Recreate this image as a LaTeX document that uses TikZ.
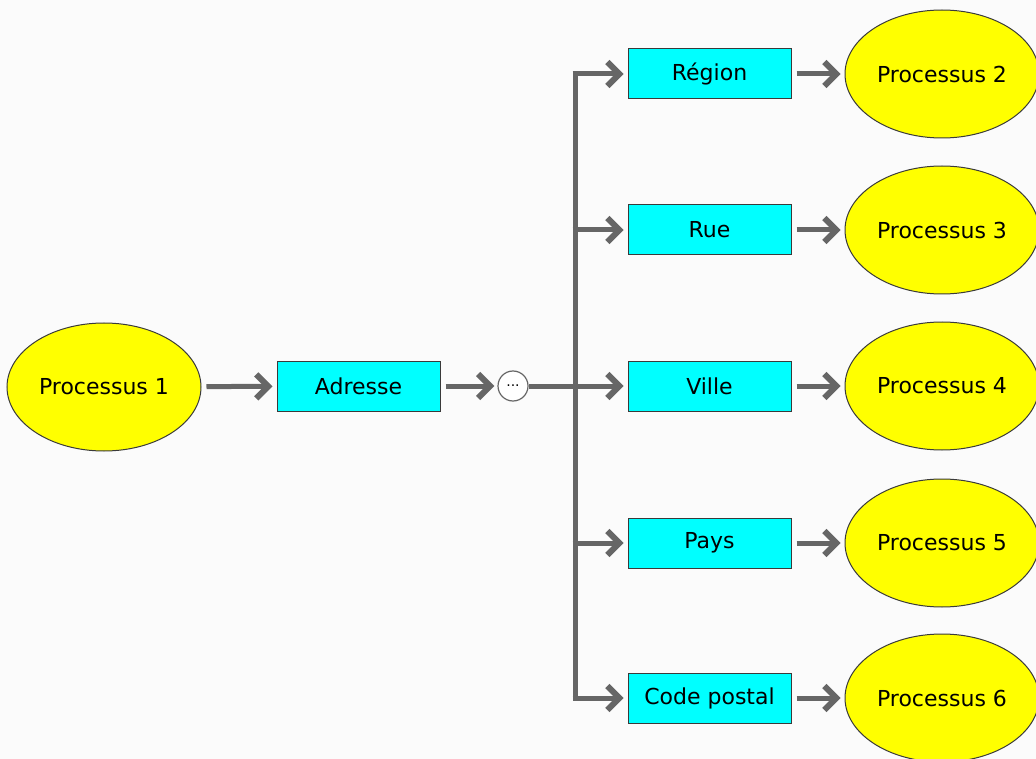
\documentclass[tikz,border=0pt]{standalone}
\usepackage{fontspec}
\setmainfont{DejaVu Sans}
\usetikzlibrary{arrows.meta,shapes.geometric}
\definecolor{bg}{HTML}{FBFBFB}
\definecolor{conn}{HTML}{666666}
\definecolor{edge}{HTML}{3A3A3A}
\definecolor{pyellow}{HTML}{FFFF00}
\definecolor{pcyan}{HTML}{00FFFF}
\tikzset{
  proc/.style={ellipse, draw=edge, line width=1pt, fill=pyellow, minimum width=194pt, minimum height=128pt, inner sep=0pt, font=\fontsize{22}{24}\selectfont},
  fieldbox/.style={rectangle, draw=edge, line width=1pt, fill=pcyan, minimum width=163pt, minimum height=50pt, inner sep=0pt, font=\fontsize{22}{24}\selectfont},
  dots/.style={circle, draw=conn, line width=1.2pt, fill=white, minimum size=30pt, inner sep=0pt, font=\fontsize{14}{16}\selectfont},
  arr/.style={draw=conn, line width=5pt, -{Straight Barb[length=12pt, width=24pt, line width=6pt]}, shorten >=4pt, shorten <=5pt},
  trunk/.style={draw=conn, line width=5pt}
}
\begin{document}
\begin{tikzpicture}[x=1pt, y=-1pt]
\path[fill=bg] (0,0) rectangle (1036,759);
\useasboundingbox (0,0) rectangle (1036,759);
\begin{scope}
\clip (0,0) rectangle (1036,759);
\node[proc] (p1) at (104,387) {Processus 1};
\node[fieldbox] (adr) at (358.5,386) {Adresse};
\node[dots] (dd) at (513,386) {...};
\coordinate (trunkmid) at (575,386);
\coordinate (trunktop) at (575,74);
\coordinate (trunkbot) at (575,698);
\foreach \n/\y/\lab/\plab in {r/74/Région/Processus 2, u/230/Rue/Processus 3, v/386/Ville/Processus 4, p/543/Pays/Processus 5, c/698/Code postal/Processus 6}{
  \node[fieldbox] (b\n) at (709.5,\y) {\lab};
  \node[proc] (e\n) at (942,\y) {\plab};
  \coordinate (j\n) at (575,\y);
}
\draw[trunk] (dd.east) -- (trunkmid);
\draw[trunk] (trunktop) -- (trunkbot);
\draw[arr] (p1) -- (adr);
\draw[arr, shorten >=3pt] (adr) -- (dd);
\foreach \n in {r,u,v,p,c}{
  \draw[arr, shorten <=-2.5pt] (j\n) -- (b\n);
  \draw[arr] (b\n) -- (e\n);
}
\end{scope}
\end{tikzpicture}
\end{document}
